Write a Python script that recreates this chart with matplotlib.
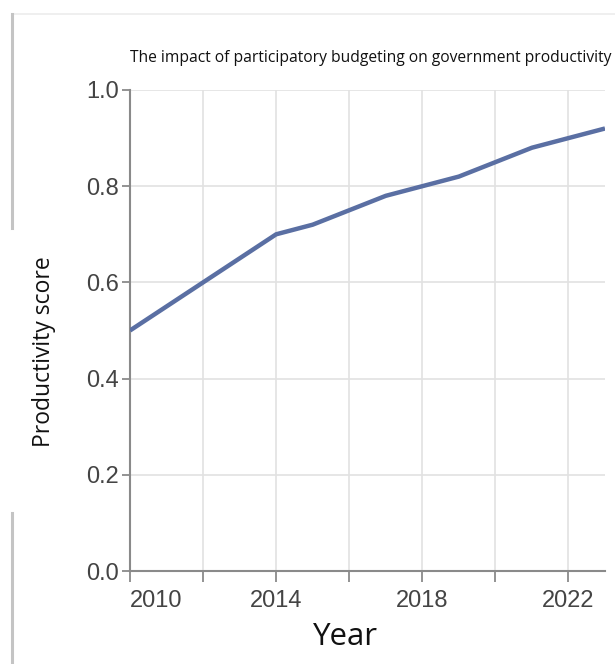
import matplotlib
matplotlib.use("Agg")
import matplotlib.pyplot as plt
from matplotlib.lines import Line2D

years = [2010, 2011, 2012, 2013, 2014, 2015, 2016, 2017, 2018, 2019, 2020, 2021, 2022, 2023]
score = [0.50, 0.55, 0.60, 0.65, 0.70, 0.72, 0.75, 0.78, 0.80, 0.82, 0.85, 0.88, 0.90, 0.92]
x_ticks = [2010, 2012, 2014, 2016, 2018, 2020, 2022]
x_labels = ["2010", "", "2014", "", "2018", "", "2022"]
y_ticks = [0.0, 0.2, 0.4, 0.6, 0.8, 1.0]

W, H = 615, 664
fig = plt.figure(figsize=(W / 100, H / 100), dpi=100)
fig.patch.set_facecolor("white")

# screenshot frame leftovers
def fl(x0, y0, x1, y1, c, lw):
    fig.add_artist(Line2D([x0 / W, x1 / W], [1 - y0 / H, 1 - y1 / H],
                          color=c, lw=lw, transform=fig.transFigure))
fl(12, 14, 615, 14, "#ececec", 1.2)
fl(12, 14, 12, 228, "#c4c4c4", 2.2)
fl(12, 513, 12, 664, "#c4c4c4", 2.2)

ax = fig.add_axes([130 / W, 1 - 571 / H, (605 - 130) / W, (571 - 90) / H])
ax.plot(years, score, color="#5a6fa3", lw=3.2, solid_capstyle="butt", zorder=3)
ax.set_xlim(2010, 2023)
ax.set_ylim(0, 1.0)
ax.set_xticks(x_ticks)
ax.set_xticklabels(x_labels)
ax.set_yticks(y_ticks)
ax.set_yticklabels([f"{v:.1f}" for v in y_ticks])
ax.grid(True, color="#e2e2e2", lw=1.2, zorder=0)
for s in ["top", "right"]:
    ax.spines[s].set_visible(False)
for s in ["left", "bottom"]:
    ax.spines[s].set_color("#8a8a8a")
    ax.spines[s].set_linewidth(1.5)
ax.tick_params(axis="both", colors="#8a8a8a", width=1.3,
               labelcolor="#444444", labelsize=17)
ax.tick_params(axis="y", length=6, pad=2)
ax.tick_params(axis="x", length=8, pad=6)
for lab in ax.get_xticklabels() + ax.get_yticklabels():
    lab.set_fontfamily("Liberation Sans")
ax.get_xticklabels()[0].set_horizontalalignment("left")

fig.text(130 / W, 1 - 58 / H, "The impact of participatory budgeting on government productivity",
         fontsize=11.25, family="Open Sans", ha="left", va="center", color="#111111")
fig.text(44 / W, 1 - 352 / H, "Productivity score", rotation=90,
         fontsize=16.5, family="Open Sans", ha="center", va="center", color="#111111")
fig.text(345 / W, 1 - 637 / H, "Year", fontsize=22.5, family="Open Sans",
         ha="center", va="center", color="#111111")

fig.savefig("out.png", dpi=100)
